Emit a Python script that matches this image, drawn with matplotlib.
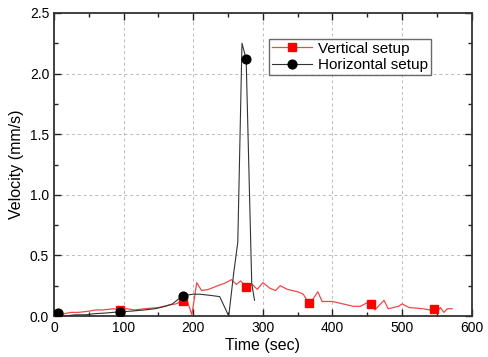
#####################################
# Import Modules
#####################################

import matplotlib
matplotlib.use("Agg")
import matplotlib.pyplot as plt
from matplotlib.ticker import MultipleLocator

#####################################
# Data
#####################################

vertical_time = [5, 10, 15, 25, 35, 50, 60, 70, 85, 95, 105, 115, 130, 150,
                 165, 175, 185, 190, 198, 205, 212, 222, 235, 245, 255, 262,
                 268, 276, 285, 292, 300, 310, 318, 325, 335, 350, 358, 366,
                 372, 379, 385, 400, 415, 430, 440, 450, 456, 461, 474, 480,
                 495, 500, 510, 530, 540, 546, 550, 555, 560, 565, 572]
vertical_vel = [0.01, 0.0, 0.02, 0.03, 0.03, 0.04, 0.05, 0.05, 0.06, 0.05,
                0.06, 0.05, 0.06, 0.07, 0.09, 0.10, 0.125, 0.15, 0.01, 0.275,
                0.21, 0.22, 0.25, 0.27, 0.30, 0.26, 0.29, 0.24, 0.26, 0.22,
                0.275, 0.23, 0.21, 0.25, 0.22, 0.20, 0.18, 0.105, 0.14, 0.20,
                0.12, 0.12, 0.10, 0.08, 0.08, 0.11, 0.10, 0.05, 0.13, 0.06,
                0.08, 0.10, 0.07, 0.06, 0.05, 0.058, 0.03, 0.07, 0.03, 0.06,
                0.06]
vertical_marks = [0, 9, 16, 27, 37, 46, 55]

horizontal_time = [5, 15, 30, 45, 60, 75, 95, 110, 130, 145, 160, 170, 185,
                   200, 209, 225, 238, 251, 258, 264, 270, 276, 284, 288]
horizontal_vel = [0.027, 0.0, 0.01, 0.01, 0.02, 0.025, 0.035, 0.04, 0.05,
                  0.06, 0.08, 0.10, 0.168, 0.18, 0.18, 0.17, 0.16, 0.0, 0.35,
                  0.61, 2.25, 2.12, 0.27, 0.13]
horizontal_marks = [0, 6, 12, 21]

#####################################
# Set up the figure
#####################################

plt.rcParams["font.family"] = ["Liberation Sans", "DejaVu Sans"]

fig = plt.figure(figsize=(4.88, 3.57), dpi=100)
ax = fig.add_axes([0.1107, 0.1148, 0.8559, 0.8488])

ax.plot(vertical_time, vertical_vel, color="#f04848", lw=0.9,
        marker="s", markersize=6, markerfacecolor="red",
        markeredgecolor="red", markevery=vertical_marks,
        label="Vertical setup", zorder=3)
ax.plot(horizontal_time, horizontal_vel, color="#333333", lw=0.8,
        marker="o", markersize=6.3, markerfacecolor="black",
        markeredgecolor="black", markevery=horizontal_marks,
        label="Horizontal setup", zorder=4)

ax.set_xlim(0, 600)
ax.set_ylim(0, 2.5)
ax.xaxis.set_major_locator(MultipleLocator(100))
ax.xaxis.set_minor_locator(MultipleLocator(50))
ax.yaxis.set_major_locator(MultipleLocator(0.5))
ax.yaxis.set_minor_locator(MultipleLocator(0.25))
ax.yaxis.set_major_formatter(matplotlib.ticker.FormatStrFormatter("%.1f"))

ax.tick_params(which="both", direction="in", top=True, right=True,
               labelsize=10, width=1.0, color="#222222")
ax.tick_params(which="major", length=5)
ax.tick_params(which="minor", length=3)
for spine in ax.spines.values():
    spine.set_linewidth(1.3)
    spine.set_color("#333333")

ax.grid(True, which="major", linestyle=(0, (3, 3)), color="#bbbbbb", lw=0.7)
ax.set_axisbelow(True)

ax.set_xlabel("Time (sec)", fontsize=11.5, labelpad=2)
ax.set_ylabel("Velocity (mm/s)", fontsize=11.5, labelpad=4)

ax.legend(loc="upper left", bbox_to_anchor=(0.515, 0.915), fontsize=11,
          frameon=True, fancybox=False, edgecolor="#444444",
          borderpad=0.2, handlelength=2.6, labelspacing=0.15,
          handletextpad=0.4, borderaxespad=0.0)

fig.savefig("out.png", dpi=100)
